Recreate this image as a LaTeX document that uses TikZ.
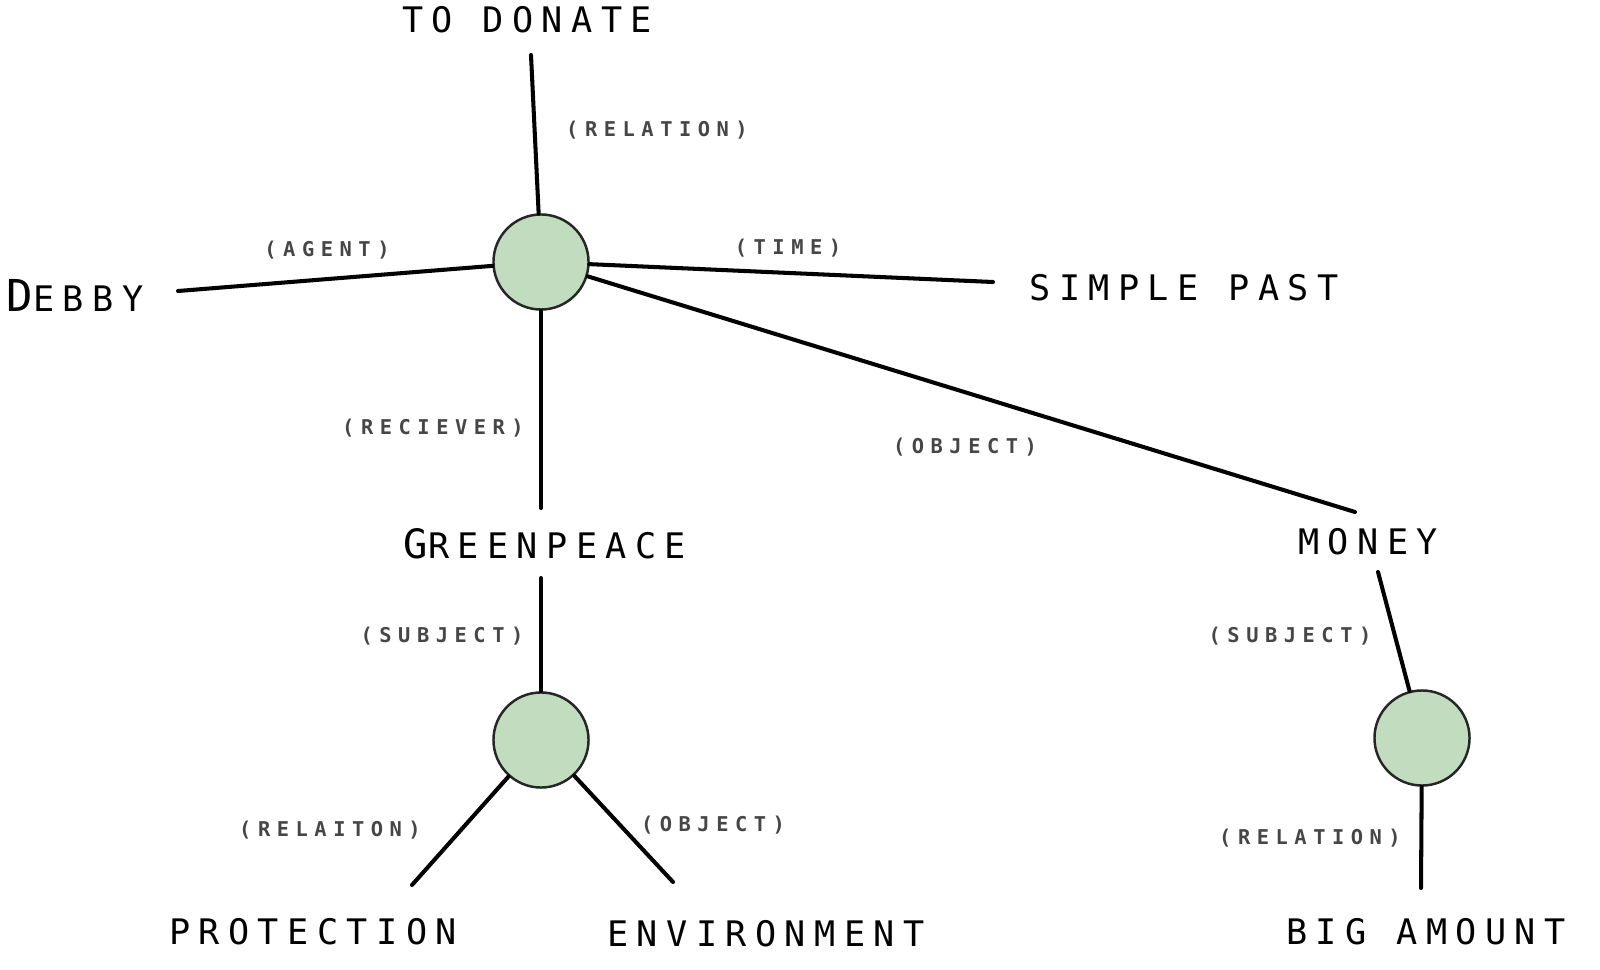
\documentclass[tikz,border=0pt]{standalone}
\usepackage{fontspec}
\newfontfamily\bigf[LetterSpace=24]{DejaVu Sans Mono}
\newfontfamily\smallf[LetterSpace=32]{DejaVu Sans Mono Bold}
\definecolor{circfill}{RGB}{193,220,191}
\definecolor{labgray}{RGB}{70,70,70}
\begin{document}
\begin{tikzpicture}[x=0.01cm,y=-0.01cm,
  concept/.style={circle,draw=black!85,line width=0.7pt,fill=circfill,minimum size=0.95cm,inner sep=0pt},
  word/.style={anchor=base,inner sep=0pt,font=\bigf\fontsize{10}{11}\selectfont},
  rel/.style={anchor=center,inner sep=0pt,text=labgray,font=\smallf\fontsize{5.8}{7}\selectfont},
  link/.style={line width=1.15pt,line cap=round,black}]
\useasboundingbox (0,0) rectangle (1600,970);
% concept circles
\node[concept] (c1) at (541,262) {};
\node[concept] (c2) at (541,740) {};
\node[concept] (c3) at (1422,738) {};
% words
\node[word] (donate) at (527,33) {TO DONATE};
\node[word] (debby) at (75,311) {{\fontsize{12.5}{13}\selectfont D}EBBY};
\node[word] (past) at (1184,300) {SIMPLE PAST};
\node[word] (green) at (545,558) {{\fontsize{11.5}{12}\selectfont G}REENPEACE};
\node[word] (money) at (1368,554) {MONEY};
\node[word] (prot) at (313,944) {PROTECTION};
\node[word] (env) at (766,946) {ENVIRONMENT};
\node[word] (big) at (1426,944) {BIG AMOUNT};
% free ends of connectors
\coordinate (donateE) at (531,55);
\coordinate (debbyE) at (178,291);
\coordinate (pastE) at (993,282);
\coordinate (moneyE) at (1355,512);
\coordinate (greenT) at (541,508);
\coordinate (greenB) at (541,578);
\coordinate (moneyB) at (1378,572);
\coordinate (protE) at (412,885);
\coordinate (envE) at (673,882);
\coordinate (bigE) at (1421,888);
% connectors
\draw[link] (c1) -- (donateE);
\draw[link] (c1) -- (debbyE);
\draw[link] (c1) -- (pastE);
\draw[link] (c1) -- (moneyE);
\draw[link] (c1) -- (greenT);
\draw[link] (greenB) -- (c2);
\draw[link] (c2) -- (protE);
\draw[link] (c2) -- (envE);
\draw[link] (moneyB) -- (c3);
\draw[link] (c3) -- (bigE);
% relation labels
\node[rel] (l1) at (657,130) {(RELATION)};
\node[rel] (l2) at (327,250) {(AGENT)};
\node[rel] (l3) at (788,248) {(TIME)};
\node[rel] (l4) at (433,428) {(RECIEVER)};
\node[rel] (l5) at (965,447) {(OBJECT)};
\node[rel] (l6) at (442,636) {(SUBJECT)};
\node[rel] (l7) at (1290,636) {(SUBJECT)};
\node[rel] (l8) at (330,830) {(RELAITON)};
\node[rel] (l9) at (713,825) {(OBJECT)};
\node[rel] (l10) at (1310,838) {(RELATION)};
\end{tikzpicture}
\end{document}
